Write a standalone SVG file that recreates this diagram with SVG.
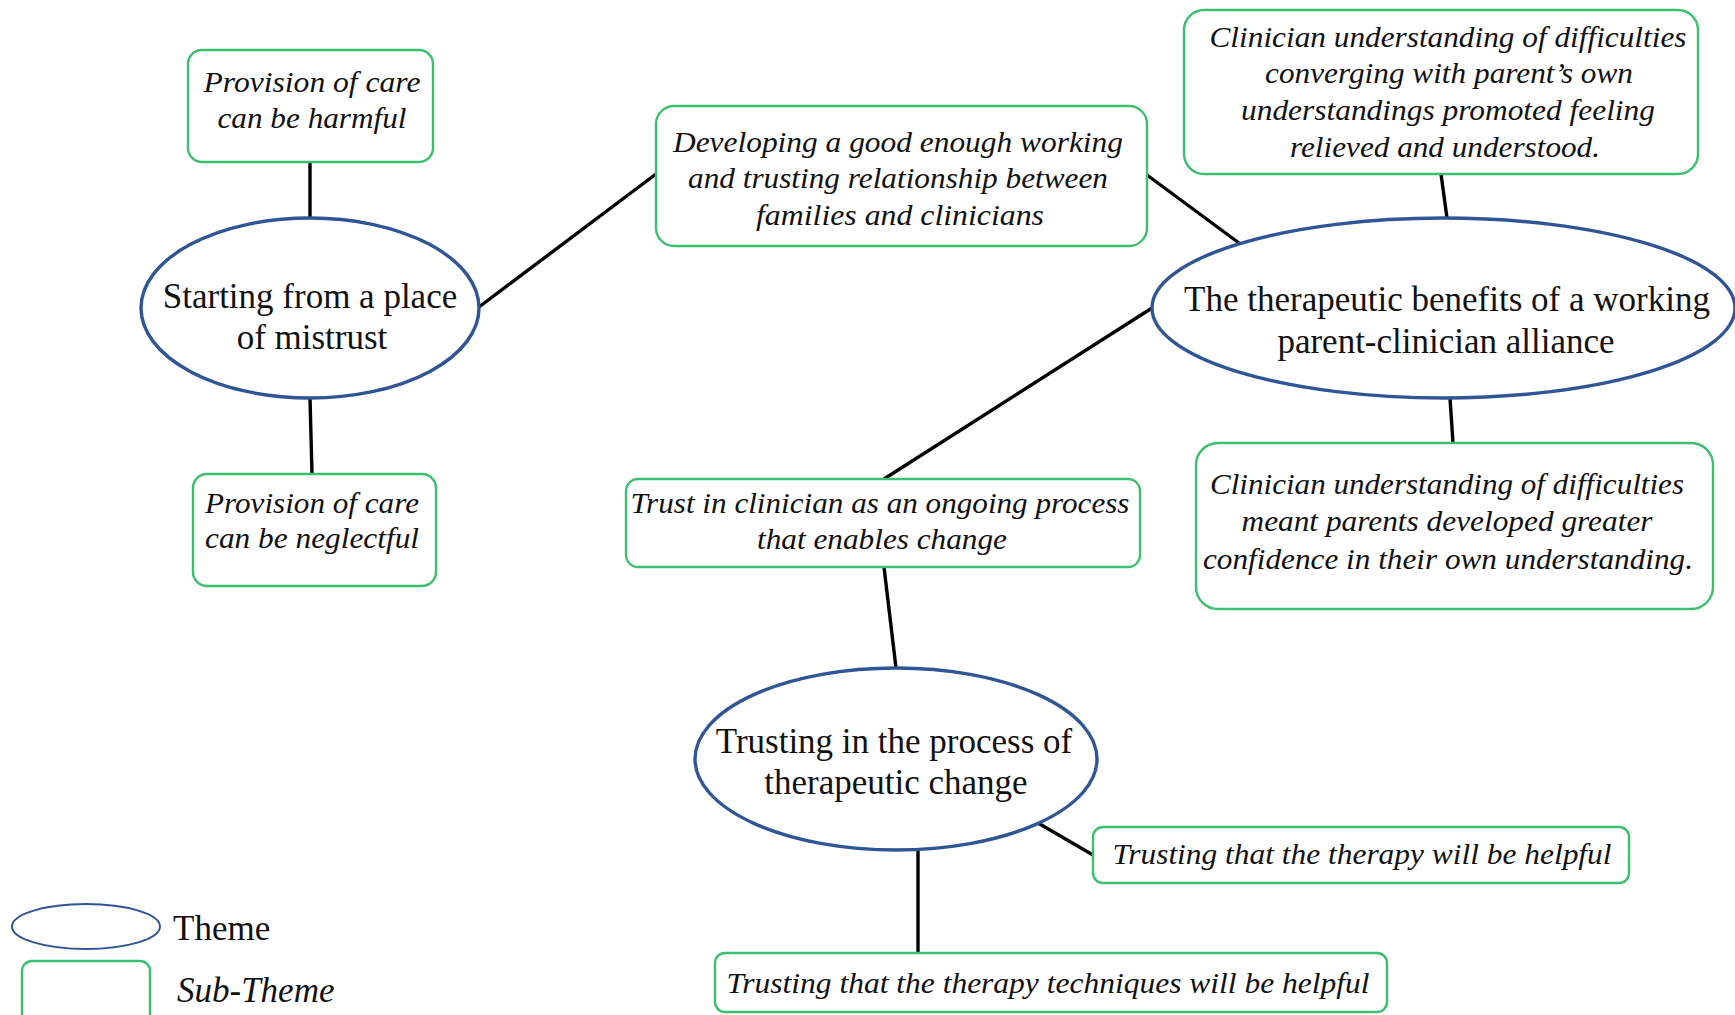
<svg xmlns="http://www.w3.org/2000/svg" width="1735" height="1015" viewBox="0 0 1735 1015">
  <style>
    .theme { fill: #ffffff; stroke: #2f5597; stroke-width: 3.4; }
    .sub { fill: #ffffff; stroke: #3cbf6e; stroke-width: 2.4; }
    .link { stroke: #000000; stroke-width: 3.4; fill: none; }
    .tt { font-family: "Liberation Serif", "Times New Roman", serif; font-size: 35px; fill: #111111; text-anchor: middle; }
    .st { font-family: "Liberation Serif", "Times New Roman", serif; font-size: 30px; font-style: italic; fill: #111111; text-anchor: middle; }
  </style>
  <rect width="1735" height="1015" fill="#ffffff"/>

  <!-- connectors -->
  <g id="connectors">
    <line class="link" x1="310" y1="162" x2="310" y2="218"/>
    <line class="link" x1="310" y1="398" x2="312" y2="474"/>
    <line class="link" x1="479" y1="307" x2="656" y2="174"/>
    <line class="link" x1="1147" y1="175" x2="1239" y2="243"/>
    <line class="link" x1="1441" y1="174" x2="1447" y2="218"/>
    <line class="link" x1="1450" y1="398" x2="1453" y2="443"/>
    <line class="link" x1="1152" y1="308" x2="884" y2="479"/>
    <line class="link" x1="884" y1="567" x2="896" y2="668"/>
    <line class="link" x1="1038" y1="823" x2="1093" y2="855"/>
    <line class="link" x1="918" y1="850" x2="918" y2="953"/>
  </g>

  <!-- themes -->
  <g id="theme-mistrust">
    <ellipse class="theme" cx="310" cy="308" rx="169" ry="90"/>
    <text class="tt" x="310" y="308">Starting from a place</text>
    <text class="tt" x="312" y="349">of mistrust</text>
  </g>
  <g id="theme-alliance">
    <ellipse class="theme" cx="1443.5" cy="308" rx="291.5" ry="90"/>
    <text class="tt" x="1447" y="311">The therapeutic benefits of a working</text>
    <text class="tt" x="1446" y="353">parent-clinician alliance</text>
  </g>
  <g id="theme-change">
    <ellipse class="theme" cx="896" cy="759" rx="201" ry="91"/>
    <text class="tt" x="894" y="753">Trusting in the process of</text>
    <text class="tt" x="896" y="794">therapeutic change</text>
  </g>

  <!-- sub-themes -->
  <g id="sub-harmful">
    <rect class="sub" x="188" y="50" width="245" height="112" rx="14"/>
    <text class="st" x="312" y="92" textLength="217" lengthAdjust="spacingAndGlyphs">Provision of care</text>
    <text class="st" x="312" y="128" textLength="189" lengthAdjust="spacingAndGlyphs">can be harmful</text>
  </g>
  <g id="sub-neglectful">
    <rect class="sub" x="193" y="474" width="243" height="112" rx="14"/>
    <text class="st" x="312" y="513" textLength="214" lengthAdjust="spacingAndGlyphs">Provision of care</text>
    <text class="st" x="312" y="548" textLength="214" lengthAdjust="spacingAndGlyphs">can be neglectful</text>
  </g>
  <g id="sub-relationship">
    <rect class="sub" x="656" y="106" width="491" height="140" rx="18"/>
    <text class="st" x="898" y="152" textLength="450" lengthAdjust="spacingAndGlyphs">Developing a good enough working</text>
    <text class="st" x="898" y="188" textLength="420" lengthAdjust="spacingAndGlyphs">and trusting relationship between</text>
    <text class="st" x="900" y="225" textLength="288" lengthAdjust="spacingAndGlyphs">families and clinicians</text>
  </g>
  <g id="sub-relieved">
    <rect class="sub" x="1184" y="10" width="514" height="164" rx="20"/>
    <text class="st" x="1448" y="47" textLength="477" lengthAdjust="spacingAndGlyphs">Clinician understanding of difficulties</text>
    <text class="st" x="1449" y="83" textLength="368" lengthAdjust="spacingAndGlyphs">converging with parent’s own</text>
    <text class="st" x="1448" y="120" textLength="414" lengthAdjust="spacingAndGlyphs">understandings promoted feeling</text>
    <text class="st" x="1445" y="157" textLength="310" lengthAdjust="spacingAndGlyphs">relieved and understood.</text>
  </g>
  <g id="sub-ongoing">
    <rect class="sub" x="626" y="479" width="514" height="88" rx="12"/>
    <text class="st" x="880" y="513" textLength="499" lengthAdjust="spacingAndGlyphs">Trust in clinician as an ongoing process</text>
    <text class="st" x="882" y="549" textLength="250" lengthAdjust="spacingAndGlyphs">that enables change</text>
  </g>
  <g id="sub-confidence">
    <rect class="sub" x="1196" y="443" width="517" height="166" rx="22"/>
    <text class="st" x="1447" y="494" textLength="474" lengthAdjust="spacingAndGlyphs">Clinician understanding of difficulties</text>
    <text class="st" x="1447" y="531" textLength="411" lengthAdjust="spacingAndGlyphs">meant parents developed greater</text>
    <text class="st" x="1448" y="569" textLength="490" lengthAdjust="spacingAndGlyphs">confidence in their own understanding.</text>
  </g>
  <g id="sub-therapy">
    <rect class="sub" x="1093" y="827" width="536" height="56" rx="10"/>
    <text class="st" x="1362" y="864" textLength="499" lengthAdjust="spacingAndGlyphs">Trusting that the therapy will be helpful</text>
  </g>
  <g id="sub-techniques">
    <rect class="sub" x="715" y="953" width="672" height="59" rx="10"/>
    <text class="st" x="1048" y="993" textLength="643" lengthAdjust="spacingAndGlyphs">Trusting that the therapy techniques will be helpful</text>
  </g>

  <!-- legend -->
  <g id="legend">
    <ellipse class="theme" cx="86" cy="926.5" rx="74" ry="22.5" style="stroke-width: 2"/>
    <text class="tt" x="173" y="940" style="text-anchor: start">Theme</text>
    <rect class="sub" x="22" y="961" width="128" height="70" rx="10"/>
    <text class="tt" x="177" y="1002" style="text-anchor: start; font-style: italic">Sub-Theme</text>
  </g>
</svg>
